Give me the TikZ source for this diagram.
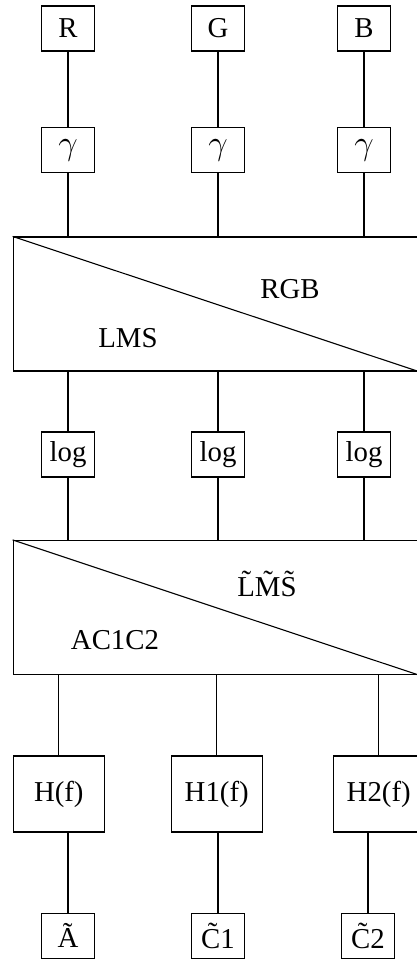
\documentclass[tikz,border=0pt]{standalone}
\usepackage{fontspec}
\setmainfont{Liberation Serif}
\usetikzlibrary{positioning}
\tikzset{
  txt/.style={font=\fontsize{14.4}{17}\selectfont},
  sig/.style={txt,draw,line width=.55pt,fill=white,minimum width=26.5pt,minimum height=22.5pt,inner sep=0pt},
  gam/.style={sig,font=\fontsize{18}{20}\selectfont},
  filt/.style={sig,minimum width=45.5pt,minimum height=38pt},
  mat/.style={draw,line width=.55pt,minimum width=202.5pt,minimum height=67pt,inner sep=0pt},
  wire/.style={line width=.55pt},
  lab/.style={txt,inner sep=0pt}
}
\begin{document}
\begin{tikzpicture}[x=.5pt,y=-.5pt]
    \useasboundingbox (0,0) rectangle (417,959);
    \node[sig] (r) at (68,28.5) {R}; \node[sig] (g) at (218,28.5) {G}; \node[sig] (b) at (364,28.5) {B};
    \node[gam] (gr) at (68,150) {$\gamma$}; \node[gam] (gg) at (218,150) {$\gamma$}; \node[gam] (gb) at (364,150) {$\gamma$};
    \node[mat] (m1) at (215.7,304) {};
    \draw[wire] (m1.north west)--(m1.south east);
    \node[lab] (rgb) at (290,289) {RGB}; \node[lab] (lms) at (128,338) {LMS};
    \node[sig] (lr) at (68,454.5) {log}; \node[sig] (lg) at (218,454.5) {log}; \node[sig] (lb) at (364,454.5) {log};
    \node[mat] (m2) at (215.7,607.5) {};
    \draw[wire] (m2.north west)--(m2.south east);
    \node[lab] (lmst) at (267,584) {\~L\~M\~S}; \node[lab] (acc) at (115,640) {AC1C2};
    \node[filt] (h0) at (58.8,794) {H(f)}; \node[filt] (h1) at (216.7,794) {H1(f)}; \node[filt] (h2) at (378.7,794) {H2(f)};
    \node[sig] (a) at (68,935.8) {\~A}; \node[sig] (c1) at (218,935.8) {\~C1}; \node[sig] (c2) at (368,935.8) {\~C2};
    \draw[wire] (r)--(gr); \draw[wire] (g)--(gg); \draw[wire] (b)--(gb);
    \draw[wire] (gr)--(gr |- m1.north); \draw[wire] (gg)--(gg |- m1.north); \draw[wire] (gb)--(gb |- m1.north);
    \draw[wire] (lr)--(lr |- m1.south); \draw[wire] (lg)--(lg |- m1.south); \draw[wire] (lb)--(lb |- m1.south);
    \draw[wire] (lr)--(lr |- m2.north); \draw[wire] (lg)--(lg |- m2.north); \draw[wire] (lb)--(lb |- m2.north);
    \draw[wire] (h0)--(h0 |- m2.south); \draw[wire] (h1)--(h1 |- m2.south); \draw[wire] (h2)--(h2 |- m2.south);
    \draw[wire] (a)--(a |- h0.south); \draw[wire] (c1)--(c1 |- h1.south); \draw[wire] (c2)--(c2 |- h2.south);
  \end{tikzpicture}
\end{document}
